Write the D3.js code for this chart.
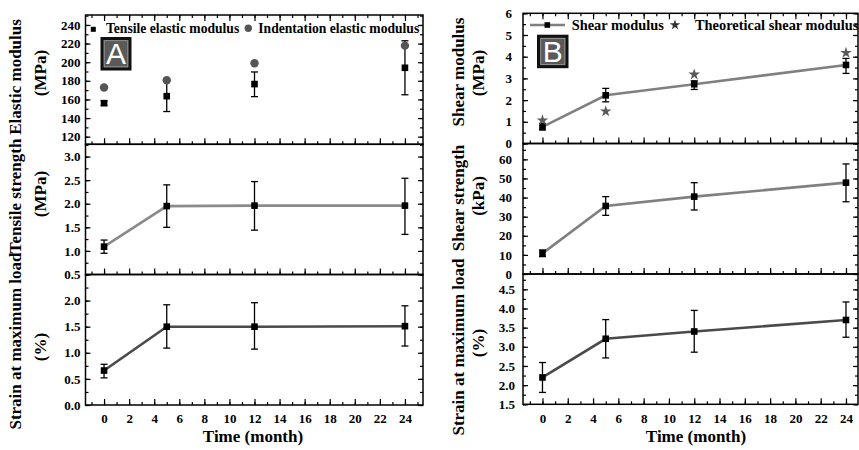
<!DOCTYPE html>
<html><head><meta charset="utf-8">
<script src="https://cdn.jsdelivr.net/npm/d3@7"></script>
<style>
body{margin:0;background:#fff}
svg{display:block}
text{font-family:"Liberation Serif","Times New Roman",serif;font-weight:bold;fill:#000}
</style>
</head><body>
<svg id="chart" width="859" height="450"></svg>
<script>
// ---------- data ----------
const months = [0, 5, 12, 24];
const xTickValues = [0, 2, 4, 6, 8, 10, 12, 14, 16, 18, 20, 22, 24];

// Panel A
const tensileElasticModulus = [156, 163.5, 176.5, 194];
const tensileElasticLow = [153.5, 147, 163, 165];
const tensileElasticHigh = [158.5, 180, 189.5, 223];
const indentationElasticModulus = [172.8, 180.6, 198.8, 217.8];

const tensileStrength = [1.09, 1.95, 1.96, 1.96];
const tensileStrengthLow = [0.95, 1.50, 1.44, 1.35];
const tensileStrengthHigh = [1.23, 2.40, 2.47, 2.54];

const strainA = [0.66, 1.50, 1.50, 1.51];
const strainALow = [0.52, 1.09, 1.07, 1.13];
const strainAHigh = [0.78, 1.92, 1.96, 1.90];

// Panel B
const shearModulus = [0.77, 2.22, 2.73, 3.62];
const shearModulusLow = [0.62, 1.92, 2.49, 3.23];
const shearModulusHigh = [0.92, 2.54, 2.89, 3.92];
const theoreticalShearModulus = [1.07, 1.48, 3.18, 4.18];

const shearStrength = [10.8, 35.6, 40.5, 47.8];
const shearStrengthLow = [9.1, 30.7, 33.5, 37.8];
const shearStrengthHigh = [12.6, 40.5, 47.8, 57.6];

const strainB = [2.20, 3.21, 3.40, 3.70];
const strainBLow = [1.81, 2.71, 2.86, 3.25];
const strainBHigh = [2.59, 3.71, 3.95, 4.17];

// tick labels
const elasticTicks = [120, 140, 160, 180, 200, 220, 240];
const tensileStrengthTicks = [0.5, 1.0, 1.5, 2.0, 2.5, 3.0];
const strainATicks = [0.0, 0.5, 1.0, 1.5, 2.0];
const shearModulusTicks = [0, 1, 2, 3, 4, 5, 6];
const shearStrengthTicks = [0, 10, 20, 30, 40, 50, 60];
const strainBTicks = [1.5, 2.0, 2.5, 3.0, 3.5, 4.0, 4.5];

// ---------- drawing ----------
const svg = d3.select("#chart");
const fmt1 = d3.format(".1f");
const fmt0 = d3.format("d");

const xA = d3.scaleLinear().domain([-1.48, 25.44]).range([85.5, 423]);
const xB = d3.scaleLinear().domain([-1.54, 24.95]).range([523, 858]);

function minorVals(domain, step) {
  const a = Math.ceil(domain[0] / step - 1e-9), b = Math.floor(domain[1] / step + 1e-9);
  return d3.range(a, b + 1).map(i => +(i * step).toFixed(4));
}

function styleAxis(sel) {
  sel.select(".domain").remove();
  sel.selectAll("line").attr("stroke", "#000").attr("stroke-width", 1.2);
  sel.selectAll("text").style("font-size", "13px").style("font-family", '"Liberation Serif","Times New Roman",serif').style("font-weight", "bold");
}

function panel(cfg) {
  const { x, yDomain, yRange, ticks, minorStep, fmt, top, bottom, labelGap } = cfg;
  const y = d3.scaleLinear().domain(yDomain).range(yRange);
  const g = svg.append("g");
  const [x0, x1] = x.range();
  const yb = yRange[0], yt = yRange[1];
  const xd = x.domain();

  // x ticks bottom
  const gb = g.append("g").attr("transform", `translate(0,${yb})`);
  gb.append("g").call(d3.axisBottom(x).tickValues(minorVals(xd, 1)).tickSize(-3).tickFormat("")).call(styleAxis);
  gb.append("g").call(d3.axisBottom(x).tickValues(xTickValues).tickSize(-6).tickPadding(9)
      .tickFormat(bottom ? fmt0 : "")).call(styleAxis);
  if (top) {
    const gt = g.append("g").attr("transform", `translate(0,${yt})`);
    gt.append("g").call(d3.axisTop(x).tickValues(minorVals(xd, 1)).tickSize(-3).tickFormat("")).call(styleAxis);
    gt.append("g").call(d3.axisTop(x).tickValues(xTickValues).tickSize(-6).tickFormat("")).call(styleAxis);
  }
  // y ticks left
  const gl = g.append("g").attr("transform", `translate(${x0},0)`);
  gl.append("g").call(d3.axisLeft(y).tickValues(minorVals(yDomain, minorStep)).tickSize(-3).tickFormat("")).call(styleAxis);
  gl.append("g").call(d3.axisLeft(y).tickValues(ticks).tickSize(-5).tickPadding(labelGap).tickFormat(fmt)).call(styleAxis);
  // y ticks right
  const gr = g.append("g").attr("transform", `translate(${x1},0)`);
  gr.append("g").call(d3.axisRight(y).tickValues(minorVals(yDomain, minorStep)).tickSize(-3).tickFormat("")).call(styleAxis);
  gr.append("g").call(d3.axisRight(y).tickValues(ticks).tickSize(-5).tickFormat("")).call(styleAxis);

  // frame
  g.append("rect").attr("x", x0).attr("y", yt).attr("width", x1 - x0).attr("height", yb - yt)
    .attr("fill", "none").attr("stroke", "#000").attr("stroke-width", 1.5);
  return { g, y };
}

function series(p, x, vals, lows, highs, lineColor) {
  const { g, y } = p;
  const pts = months.map((m, i) => ({ m, v: vals[i], lo: lows ? lows[i] : null, hi: highs ? highs[i] : null }));
  if (lineColor) {
    g.append("path").datum(pts)
      .attr("d", d3.line().x(d => x(d.m)).y(d => y(d.v)))
      .attr("fill", "none").attr("stroke", lineColor).attr("stroke-width", 2.6);
  }
  if (lows) {
    const eb = g.append("g").attr("stroke", "#000").attr("stroke-width", 1.3);
    pts.forEach(d => {
      const cx = x(d.m);
      eb.append("line").attr("x1", cx).attr("x2", cx).attr("y1", y(d.lo)).attr("y2", y(d.hi));
      eb.append("line").attr("x1", cx - 3.5).attr("x2", cx + 3.5).attr("y1", y(d.lo)).attr("y2", y(d.lo));
      eb.append("line").attr("x1", cx - 3.5).attr("x2", cx + 3.5).attr("y1", y(d.hi)).attr("y2", y(d.hi));
    });
  }
  g.append("g").selectAll("rect").data(pts).join("rect")
    .attr("x", d => x(d.m) - 3.3).attr("y", d => y(d.v) - 3.3)
    .attr("width", 6.6).attr("height", 6.6).attr("fill", "#000");
}

function yTitle(cx1, cx2, cy1, cy2, t1, t2, size) {
  svg.append("text").attr("transform", `translate(${cx1},${cy1}) rotate(-90)`)
    .attr("text-anchor", "middle").attr("dy", "0.35em").style("font-size", size + "px").text(t1);
  svg.append("text").attr("transform", `translate(${cx2},${cy2}) rotate(-90)`)
    .attr("text-anchor", "middle").attr("dy", "0.35em").style("font-size", size + "px").text(t2);
}

// ---------- Panel A ----------
const a1 = panel({ x: xA, yDomain: [111.8, 250.7], yRange: [144.3, 15], ticks: elasticTicks, minorStep: 10, fmt: fmt0, top: true, bottom: false, labelGap: 5 });
series(a1, xA, tensileElasticModulus, tensileElasticLow, tensileElasticHigh, null);
a1.g.append("g").selectAll("circle").data(months).join("circle")
  .attr("cx", d => xA(d)).attr("cy", (d, i) => a1.y(indentationElasticModulus[i])).attr("r", 4.2).attr("fill", "#555");

const a2 = panel({ x: xA, yDomain: [0.5, 3.26], yRange: [274.5, 144.3], ticks: tensileStrengthTicks, minorStep: 0.25, fmt: fmt1, top: false, bottom: false, labelGap: 5 });
series(a2, xA, tensileStrength, tensileStrengthLow, tensileStrengthHigh, "#8a8a8a");

const a3 = panel({ x: xA, yDomain: [0, 2.5], yRange: [405, 274.5], ticks: strainATicks, minorStep: 0.25, fmt: fmt1, top: false, bottom: true, labelGap: 5 });
series(a3, xA, strainA, strainALow, strainAHigh, "#4a4a4a");

// legend A
svg.append("rect").attr("x", 90.8).attr("y", 26.8).attr("width", 5).attr("height", 5).attr("fill", "#000");
svg.append("text").attr("x", 106).attr("y", 32.8).style("font-size", "13.6px").text("Tensile elastic modulus");
svg.append("circle").attr("cx", 248.3).attr("cy", 28.2).attr("r", 3.7).attr("fill", "#555");
svg.append("text").attr("x", 258.3).attr("y", 32.8).style("font-size", "13.6px").text("Indentation elastic modulus");

// ---------- Panel B ----------
const b1 = panel({ x: xB, yDomain: [0, 6], yRange: [143.5, 13.3], ticks: shearModulusTicks, minorStep: 0.5, fmt: fmt0, top: true, bottom: false, labelGap: 11 });
series(b1, xB, shearModulus, shearModulusLow, shearModulusHigh, "#808080");
b1.g.append("g").selectAll("path.star").data(months).join("path")
  .attr("transform", (d, i) => `translate(${xB(d)},${b1.y(theoreticalShearModulus[i])})`)
  .attr("d", d3.symbol().type(d3.symbolStar).size(42)).attr("fill", "#5a5a5a");

const b2 = panel({ x: xB, yDomain: [0, 68.3], yRange: [274, 143.5], ticks: shearStrengthTicks, minorStep: 5, fmt: fmt0, top: false, bottom: false, labelGap: 11 });
series(b2, xB, shearStrength, shearStrengthLow, shearStrengthHigh, "#808080");

const b3 = panel({ x: xB, yDomain: [1.5, 4.9], yRange: [404.3, 274], ticks: strainBTicks, minorStep: 0.25, fmt: fmt1, top: false, bottom: true, labelGap: 8 });
series(b3, xB, strainB, strainBLow, strainBHigh, "#4a4a4a");

// legend B
svg.append("line").attr("x1", 530).attr("x2", 565).attr("y1", 25).attr("y2", 25).attr("stroke", "#808080").attr("stroke-width", 2.6);
svg.append("rect").attr("x", 544.5).attr("y", 22.2).attr("width", 5.6).attr("height", 5.6).attr("fill", "#000");
svg.append("text").attr("x", 571.7).attr("y", 30).style("font-size", "14.4px").text("Shear modulus");
svg.append("path").attr("transform", "translate(675,25)").attr("d", d3.symbol().type(d3.symbolStar).size(34)).attr("fill", "#333");
svg.append("text").attr("x", 695).attr("y", 30).style("font-size", "14.4px").text("Theoretical shear modulus");

// ---------- letter badges ----------
function badge(x, y, w, h, letter) {
  svg.append("rect").attr("x", x).attr("y", y).attr("width", w).attr("height", h)
    .attr("fill", "#5a5a5a").attr("stroke", "#111").attr("stroke-width", 3);
  svg.append("rect").attr("x", x + 2.2).attr("y", y + 2.2).attr("width", w - 4.4).attr("height", h - 4.4)
    .attr("fill", "none").attr("stroke", "#9a9a9a").attr("stroke-width", 0.8);
  svg.append("text").attr("x", x + w / 2).attr("y", y + h - 5).attr("text-anchor", "middle")
    .style("font-family", '"Liberation Sans",Arial,sans-serif').style("font-weight", "normal")
    .style("font-size", "30px").style("fill", "#fff").text(letter);
}
badge(102, 38.5, 28, 30.5, "A");
badge(538.5, 36.2, 28.5, 30.5, "B");

// ---------- axis titles ----------
yTitle(15, 40, 77, 73, "Elastic modulus", "(MPa)", 17);
yTitle(15, 40, 196, 194, "Tensile strength", "(MPa)", 17);
yTitle(15, 40, 341, 347, "Strain at maximum load", "(%)", 17);
yTitle(458, 478, 72, 73, "Shear modulus", "(MPa)", 17);
yTitle(458, 478, 198, 196, "Shear strength", "(kPa)", 17);
yTitle(458, 478, 347, 343, "Strain at maximum load", "(%)", 17);

svg.append("text").attr("x", 253).attr("y", 442).attr("text-anchor", "middle").style("font-size", "17px").text("Time (month)");
svg.append("text").attr("x", 696).attr("y", 442).attr("text-anchor", "middle").style("font-size", "17px").text("Time (month)");
</script>
</body></html>
